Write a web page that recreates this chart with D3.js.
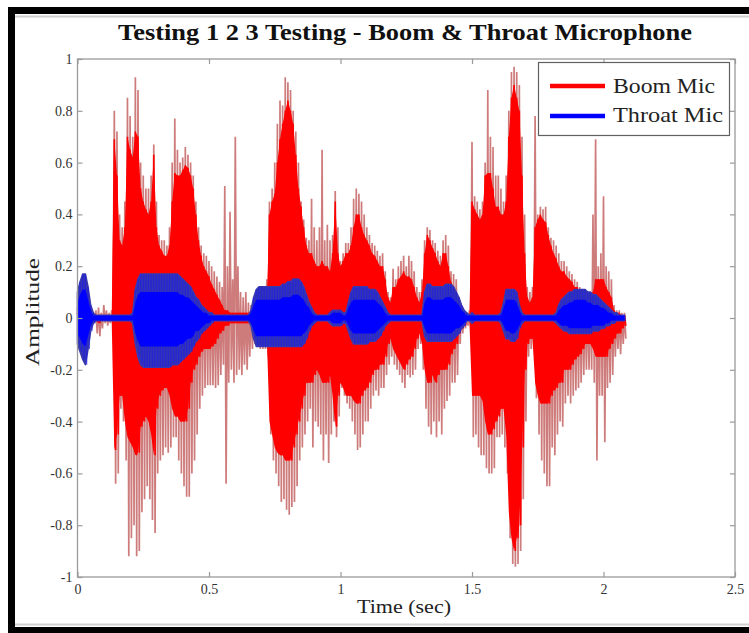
<!DOCTYPE html>
<html><head><meta charset="utf-8">
<script src="https://cdn.jsdelivr.net/npm/d3@7/dist/d3.min.js"></script>
<style>body{margin:0;background:#fff;} svg{display:block;}</style>
</head><body>
<svg id="chart" width="749" height="633"></svg>
<script>
// ---------------- data ----------------
const chartTitle = "Testing 1 2 3 Testing - Boom & Throat Microphone";
const xLabel = "Time (sec)";
const yLabel = "Amplitude";
const seriesNames = ["Boom Mic", "Throat Mic"];
const xTicks = [0, 0.5, 1, 1.5, 2, 2.5];
const xTickLabels = ["0", "0.5", "1", "1.5", "2", "2.5"];
const yTicks = [-1, -0.8, -0.6, -0.4, -0.2, 0, 0.2, 0.4, 0.6, 0.8, 1];
const yTickLabels = ["-1", "-0.8", "-0.6", "-0.4", "-0.2", "0", "0.2", "0.4", "0.6", "0.8", "1"];
const sampleStep = 0.01; // seconds between envelope samples (t = 0.00 ... 2.08)

// Boom mic: outer peaks (thin spikes)
const boomPeakMax = [
 0.04,0.06,0.05,0.05,0.03,0.02,0.02,0.03,0.04,0.02,
 0.05,0.03,0.02,0.03,0.80,0.72,0.40,0.35,0.45,0.85,
 0.78,0.70,0.93,0.88,0.60,0.55,0.50,0.50,0.55,0.67,
 0.45,0.32,0.30,0.30,0.28,0.35,0.60,0.77,0.65,0.60,
 0.62,0.66,0.63,0.60,0.55,0.45,0.35,0.28,0.25,0.24,
 0.22,0.20,0.18,0.16,0.14,0.12,0.51,0.20,0.41,0.15,
 0.70,0.20,0.10,0.08,0.10,0.06,0.05,0.05,0.06,0.08,
 0.10,0.10,0.15,0.45,0.50,0.60,0.75,0.84,0.82,0.93,
 0.91,0.88,0.80,0.72,0.60,0.45,0.38,0.31,0.30,0.46,
 0.35,0.30,0.35,0.65,0.30,0.36,0.30,0.32,0.49,0.35,
 0.22,0.25,0.29,0.29,0.35,0.46,0.50,0.48,0.45,0.40,
 0.35,0.32,0.29,0.28,0.26,0.24,0.25,0.18,0.10,0.08,
 0.19,0.15,0.20,0.22,0.24,0.20,0.24,0.22,0.18,0.12,
 0.10,0.15,0.30,0.35,0.34,0.30,0.29,0.26,0.24,0.30,
 0.32,0.28,0.18,0.17,0.15,0.08,0.05,0.03,0.02,0.03,
 0.68,0.47,0.45,0.42,0.45,0.60,0.88,0.70,0.66,0.55,
 0.55,0.50,0.45,0.55,0.80,0.95,0.97,0.95,0.90,0.70,
 0.40,0.12,0.10,0.12,0.78,0.40,0.43,0.42,0.43,0.35,
 0.31,0.30,0.28,0.25,0.22,0.22,0.20,0.18,0.17,0.15,
 0.14,0.12,0.10,0.08,0.08,0.10,0.40,0.69,0.20,0.25,
 0.47,0.20,0.18,0.15,0.05,0.03,0.03,0.02,0.02
];
const boomPeakMin = [
 -0.05,-0.08,-0.07,-0.06,-0.04,-0.03,-0.02,-0.06,-0.07,-0.04,
 -0.02,-0.03,-0.02,-0.03,-0.64,-0.60,-0.35,-0.40,-0.55,-0.92,
 -0.85,-0.80,-0.92,-0.90,-0.75,-0.70,-0.65,-0.70,-0.78,-0.83,
 -0.60,-0.55,-0.53,-0.50,-0.52,-0.50,-0.46,-0.46,-0.55,-0.60,
 -0.65,-0.69,-0.69,-0.60,-0.55,-0.45,-0.35,-0.30,-0.27,-0.26,
 -0.26,-0.26,-0.27,-0.26,-0.22,-0.18,-0.64,-0.25,-0.20,-0.25,
 -0.22,-0.20,-0.22,-0.18,-0.20,-0.15,-0.12,-0.10,-0.10,-0.12,
 -0.12,-0.12,-0.15,-0.45,-0.55,-0.60,-0.65,-0.71,-0.70,-0.74,
 -0.76,-0.73,-0.71,-0.65,-0.55,-0.50,-0.45,-0.40,-0.35,-0.50,
 -0.40,-0.42,-0.45,-0.55,-0.45,-0.56,-0.45,-0.40,-0.46,-0.38,
 -0.27,-0.30,-0.33,-0.35,-0.40,-0.45,-0.51,-0.50,-0.45,-0.40,
 -0.40,-0.35,-0.30,-0.28,-0.30,-0.27,-0.27,-0.22,-0.18,-0.15,
 -0.18,-0.20,-0.22,-0.25,-0.27,-0.22,-0.23,-0.22,-0.20,-0.12,
 -0.10,-0.20,-0.35,-0.42,-0.45,-0.40,-0.46,-0.40,-0.45,-0.35,
 -0.32,-0.30,-0.25,-0.25,-0.22,-0.10,-0.06,-0.04,-0.03,-0.03,
 -0.46,-0.45,-0.50,-0.53,-0.53,-0.58,-0.60,-0.60,-0.58,-0.46,
 -0.46,-0.45,-0.50,-0.60,-0.85,-0.95,-0.96,-0.95,-0.90,-0.70,
 -0.40,-0.15,-0.12,-0.12,-0.31,-0.45,-0.55,-0.60,-0.65,-0.65,
 -0.50,-0.53,-0.45,-0.40,-0.42,-0.33,-0.30,-0.33,-0.30,-0.28,
 -0.27,-0.25,-0.22,-0.20,-0.20,-0.20,-0.25,-0.55,-0.30,-0.30,
 -0.48,-0.27,-0.25,-0.22,-0.15,-0.12,-0.14,-0.10,-0.08
];
// Boom mic: dense core of the waveform
const boomCoreMax = [
 0.02,0.03,0.03,0.02,0.02,0.01,0.01,0.01,0.01,0.01,
 0.01,0.01,0.01,0.01,0.69,0.55,0.30,0.28,0.35,0.70,
 0.65,0.62,0.72,0.70,0.50,0.45,0.42,0.40,0.45,0.63,
 0.35,0.28,0.26,0.24,0.24,0.28,0.45,0.56,0.55,0.55,
 0.57,0.59,0.58,0.55,0.50,0.40,0.30,0.24,0.20,0.18,
 0.16,0.13,0.11,0.09,0.07,0.05,0.03,0.03,0.02,0.02,
 0.02,0.02,0.02,0.02,0.02,0.02,0.02,0.02,0.03,0.04,
 0.05,0.05,0.08,0.40,0.45,0.48,0.60,0.69,0.75,0.80,
 0.84,0.80,0.75,0.63,0.50,0.43,0.35,0.28,0.25,0.25,
 0.22,0.20,0.20,0.22,0.20,0.20,0.18,0.25,0.45,0.25,
 0.20,0.22,0.25,0.25,0.28,0.35,0.40,0.40,0.35,0.32,
 0.30,0.28,0.25,0.24,0.22,0.20,0.20,0.15,0.08,0.06,
 0.12,0.12,0.15,0.16,0.18,0.16,0.16,0.15,0.12,0.08,
 0.06,0.10,0.25,0.32,0.30,0.27,0.25,0.22,0.20,0.25,
 0.25,0.20,0.14,0.12,0.10,0.06,0.04,0.02,0.01,0.01,
 0.45,0.42,0.40,0.38,0.40,0.55,0.56,0.56,0.50,0.43,
 0.43,0.40,0.40,0.45,0.70,0.85,0.90,0.85,0.80,0.55,
 0.25,0.08,0.06,0.08,0.35,0.38,0.40,0.38,0.37,0.32,
 0.28,0.25,0.23,0.20,0.18,0.18,0.16,0.15,0.14,0.12,
 0.12,0.10,0.08,0.06,0.06,0.07,0.10,0.15,0.15,0.15,
 0.15,0.12,0.10,0.08,0.03,0.02,0.02,0.01,0.01
];
const boomCoreMin = [
 -0.02,-0.03,-0.03,-0.03,-0.02,-0.01,-0.01,-0.01,-0.02,-0.01,
 -0.01,-0.01,-0.01,-0.01,-0.51,-0.45,-0.30,-0.30,-0.40,-0.46,
 -0.48,-0.50,-0.53,-0.52,-0.42,-0.40,-0.38,-0.40,-0.45,-0.53,
 -0.35,-0.30,-0.28,-0.27,-0.27,-0.30,-0.35,-0.38,-0.38,-0.40,
 -0.40,-0.40,-0.35,-0.25,-0.20,-0.18,-0.15,-0.13,-0.12,-0.12,
 -0.12,-0.11,-0.10,-0.08,-0.06,-0.05,-0.03,-0.03,-0.02,-0.02,
 -0.02,-0.02,-0.02,-0.02,-0.02,-0.02,-0.02,-0.02,-0.03,-0.04,
 -0.05,-0.05,-0.08,-0.40,-0.45,-0.50,-0.52,-0.53,-0.53,-0.55,
 -0.55,-0.55,-0.50,-0.45,-0.40,-0.35,-0.30,-0.25,-0.25,-0.25,
 -0.22,-0.20,-0.22,-0.25,-0.25,-0.25,-0.22,-0.30,-0.42,-0.30,
 -0.25,-0.27,-0.30,-0.30,-0.30,-0.32,-0.33,-0.33,-0.30,-0.28,
 -0.27,-0.25,-0.22,-0.20,-0.20,-0.18,-0.18,-0.15,-0.10,-0.08,
 -0.12,-0.14,-0.16,-0.18,-0.20,-0.18,-0.16,-0.15,-0.12,-0.08,
 -0.06,-0.10,-0.20,-0.25,-0.25,-0.22,-0.25,-0.22,-0.20,-0.20,
 -0.20,-0.18,-0.14,-0.12,-0.10,-0.06,-0.04,-0.03,-0.01,-0.01,
 -0.30,-0.30,-0.30,-0.30,-0.32,-0.40,-0.45,-0.45,-0.43,-0.40,
 -0.38,-0.35,-0.35,-0.45,-0.75,-0.85,-0.90,-0.85,-0.80,-0.50,
 -0.20,-0.10,-0.08,-0.08,-0.25,-0.30,-0.33,-0.33,-0.33,-0.33,
 -0.30,-0.28,-0.27,-0.25,-0.25,-0.20,-0.20,-0.20,-0.18,-0.16,
 -0.15,-0.14,-0.12,-0.10,-0.10,-0.10,-0.12,-0.15,-0.15,-0.15,
 -0.15,-0.15,-0.12,-0.10,-0.08,-0.06,-0.06,-0.04,-0.03
];
// Throat mic: outer envelope
const throatMax = [
 0.10,0.14,0.17,0.17,0.12,0.05,0.02,0.01,0.01,0.01,
 0.01,0.01,0.01,0.01,0.01,0.01,0.01,0.01,0.01,0.01,
 0.01,0.02,0.11,0.15,0.17,0.17,0.17,0.17,0.17,0.17,
 0.17,0.17,0.17,0.17,0.17,0.17,0.17,0.17,0.17,0.16,
 0.15,0.14,0.13,0.12,0.10,0.08,0.07,0.05,0.04,0.03,
 0.02,0.02,0.01,0.01,0.01,0.01,0.01,0.01,0.01,0.01,
 0.01,0.01,0.01,0.01,0.01,0.01,0.03,0.08,0.11,0.12,
 0.12,0.12,0.12,0.12,0.12,0.12,0.12,0.12,0.13,0.13,
 0.14,0.14,0.15,0.15,0.15,0.14,0.12,0.09,0.06,0.04,
 0.02,0.01,0.01,0.01,0.01,0.01,0.02,0.03,0.03,0.03,
 0.03,0.02,0.02,0.06,0.10,0.12,0.12,0.12,0.12,0.12,
 0.12,0.11,0.11,0.11,0.10,0.08,0.06,0.04,0.02,0.01,
 0.01,0.01,0.01,0.01,0.01,0.01,0.01,0.01,0.01,0.01,
 0.01,0.01,0.10,0.13,0.13,0.12,0.12,0.12,0.12,0.12,
 0.13,0.13,0.13,0.12,0.10,0.08,0.05,0.03,0.02,0.01,
 0.02,0.01,0.01,0.01,0.01,0.01,0.01,0.01,0.01,0.01,
 0.01,0.02,0.06,0.11,0.11,0.11,0.11,0.10,0.05,0.02,
 0.01,0.01,0.01,0.01,0.01,0.01,0.01,0.01,0.01,0.01,
 0.01,0.01,0.02,0.05,0.07,0.08,0.09,0.10,0.10,0.11,
 0.11,0.11,0.11,0.11,0.10,0.10,0.09,0.09,0.08,0.07,
 0.06,0.05,0.04,0.03,0.02,0.02,0.01,0.01,0.01
];
const throatMin = [
 -0.10,-0.13,-0.16,-0.18,-0.12,-0.05,-0.02,-0.01,-0.01,-0.01,
 -0.01,-0.01,-0.01,-0.01,-0.01,-0.01,-0.01,-0.01,-0.01,-0.01,
 -0.01,-0.02,-0.10,-0.15,-0.18,-0.19,-0.19,-0.19,-0.19,-0.19,
 -0.19,-0.19,-0.19,-0.19,-0.19,-0.19,-0.18,-0.18,-0.18,-0.17,
 -0.16,-0.15,-0.14,-0.13,-0.11,-0.09,-0.08,-0.06,-0.05,-0.04,
 -0.03,-0.02,-0.01,-0.01,-0.01,-0.01,-0.01,-0.01,-0.01,-0.01,
 -0.01,-0.01,-0.01,-0.01,-0.01,-0.01,-0.03,-0.08,-0.11,-0.11,
 -0.11,-0.11,-0.11,-0.11,-0.11,-0.11,-0.11,-0.11,-0.11,-0.11,
 -0.11,-0.11,-0.11,-0.11,-0.11,-0.11,-0.10,-0.08,-0.05,-0.03,
 -0.02,-0.01,-0.01,-0.01,-0.01,-0.01,-0.02,-0.03,-0.03,-0.03,
 -0.03,-0.02,-0.02,-0.05,-0.08,-0.10,-0.10,-0.10,-0.10,-0.10,
 -0.10,-0.09,-0.09,-0.09,-0.08,-0.07,-0.05,-0.03,-0.02,-0.01,
 -0.01,-0.01,-0.01,-0.01,-0.01,-0.01,-0.01,-0.01,-0.01,-0.01,
 -0.01,-0.01,-0.07,-0.09,-0.09,-0.09,-0.09,-0.09,-0.09,-0.09,
 -0.09,-0.09,-0.09,-0.08,-0.07,-0.06,-0.04,-0.03,-0.01,-0.01,
 -0.02,-0.01,-0.01,-0.01,-0.01,-0.01,-0.01,-0.01,-0.01,-0.01,
 -0.01,-0.02,-0.05,-0.08,-0.08,-0.09,-0.09,-0.08,-0.04,-0.02,
 -0.01,-0.01,-0.01,-0.01,-0.01,-0.01,-0.01,-0.01,-0.01,-0.01,
 -0.01,-0.01,-0.02,-0.03,-0.04,-0.05,-0.05,-0.06,-0.06,-0.06,
 -0.06,-0.06,-0.06,-0.06,-0.06,-0.06,-0.05,-0.05,-0.05,-0.04,
 -0.04,-0.03,-0.03,-0.02,-0.02,-0.01,-0.01,-0.01,-0.01
];
// Throat mic: bright inner core
const throatCoreMax = [
 0.06,0.09,0.11,0.11,0.07,0.03,0.01,0.01,0.01,0.01,
 0.01,0.01,0.01,0.01,0.01,0.01,0.01,0.01,0.01,0.01,
 0.01,0.01,0.06,0.09,0.10,0.10,0.10,0.10,0.10,0.10,
 0.10,0.10,0.10,0.10,0.10,0.10,0.10,0.10,0.10,0.09,
 0.09,0.08,0.08,0.07,0.06,0.05,0.04,0.03,0.02,0.02,
 0.01,0.01,0.01,0.01,0.01,0.01,0.01,0.01,0.01,0.01,
 0.01,0.01,0.01,0.01,0.01,0.01,0.02,0.05,0.07,0.07,
 0.07,0.07,0.07,0.07,0.07,0.07,0.07,0.07,0.08,0.08,
 0.08,0.08,0.09,0.09,0.09,0.08,0.07,0.05,0.04,0.02,
 0.01,0.01,0.01,0.01,0.01,0.01,0.01,0.02,0.02,0.02,
 0.02,0.01,0.01,0.04,0.06,0.07,0.07,0.07,0.07,0.07,
 0.07,0.07,0.07,0.07,0.06,0.05,0.04,0.02,0.01,0.01,
 0.01,0.01,0.01,0.01,0.01,0.01,0.01,0.01,0.01,0.01,
 0.01,0.01,0.06,0.08,0.08,0.07,0.07,0.07,0.07,0.07,
 0.08,0.08,0.08,0.07,0.06,0.05,0.03,0.02,0.01,0.01,
 0.01,0.01,0.01,0.01,0.01,0.01,0.01,0.01,0.01,0.01,
 0.01,0.01,0.04,0.07,0.07,0.07,0.07,0.06,0.03,0.01,
 0.01,0.01,0.01,0.01,0.01,0.01,0.01,0.01,0.01,0.01,
 0.01,0.01,0.01,0.03,0.04,0.05,0.05,0.06,0.06,0.07,
 0.07,0.07,0.07,0.07,0.06,0.06,0.05,0.05,0.05,0.04,
 0.04,0.03,0.02,0.02,0.01,0.01,0.01,0.01,0.01
];
const throatCoreMin = [
 -0.06,-0.08,-0.10,-0.11,-0.07,-0.03,-0.01,-0.01,-0.01,-0.01,
 -0.01,-0.01,-0.01,-0.01,-0.01,-0.01,-0.01,-0.01,-0.01,-0.01,
 -0.01,-0.01,-0.06,-0.09,-0.11,-0.11,-0.11,-0.11,-0.11,-0.11,
 -0.11,-0.11,-0.11,-0.11,-0.11,-0.11,-0.11,-0.11,-0.11,-0.10,
 -0.10,-0.09,-0.08,-0.08,-0.07,-0.05,-0.05,-0.04,-0.03,-0.02,
 -0.02,-0.01,-0.01,-0.01,-0.01,-0.01,-0.01,-0.01,-0.01,-0.01,
 -0.01,-0.01,-0.01,-0.01,-0.01,-0.01,-0.02,-0.05,-0.07,-0.07,
 -0.07,-0.07,-0.07,-0.07,-0.07,-0.07,-0.07,-0.07,-0.07,-0.07,
 -0.07,-0.07,-0.07,-0.07,-0.07,-0.07,-0.06,-0.05,-0.03,-0.02,
 -0.01,-0.01,-0.01,-0.01,-0.01,-0.01,-0.01,-0.02,-0.02,-0.02,
 -0.02,-0.01,-0.01,-0.03,-0.05,-0.06,-0.06,-0.06,-0.06,-0.06,
 -0.06,-0.06,-0.06,-0.06,-0.05,-0.04,-0.03,-0.02,-0.01,-0.01,
 -0.01,-0.01,-0.01,-0.01,-0.01,-0.01,-0.01,-0.01,-0.01,-0.01,
 -0.01,-0.01,-0.04,-0.06,-0.06,-0.06,-0.06,-0.06,-0.06,-0.06,
 -0.06,-0.06,-0.06,-0.05,-0.04,-0.04,-0.03,-0.02,-0.01,-0.01,
 -0.01,-0.01,-0.01,-0.01,-0.01,-0.01,-0.01,-0.01,-0.01,-0.01,
 -0.01,-0.01,-0.03,-0.05,-0.05,-0.06,-0.06,-0.05,-0.03,-0.01,
 -0.01,-0.01,-0.01,-0.01,-0.01,-0.01,-0.01,-0.01,-0.01,-0.01,
 -0.01,-0.01,-0.01,-0.02,-0.03,-0.03,-0.03,-0.04,-0.04,-0.04,
 -0.04,-0.04,-0.04,-0.04,-0.04,-0.04,-0.03,-0.03,-0.03,-0.03,
 -0.03,-0.02,-0.02,-0.01,-0.01,-0.01,-0.01,-0.01,-0.01
];

// ---------------- drawing ----------------
const svg = d3.select("#chart");
const FONT = "'Liberation Serif', 'Times New Roman', serif";
const plot = {left: 77.5, right: 735, top: 59, bottom: 577};

const x = d3.scaleLinear().domain([0, 2.5]).range([plot.left, plot.right]);
const y = d3.scaleLinear().domain([-1, 1]).range([plot.bottom, plot.top]);
const tOf = i => i * sampleStep;

svg.append("rect").attr("x", 0).attr("y", 0).attr("width", 749).attr("height", 633).attr("fill", "#fff");

// zig-zag path alternating between an upper and a lower envelope
function zigzag(hi, lo) {
  const pts = [];
  hi.forEach((v, i) => {
    pts.push([x(tOf(i)), y(v)]);
    pts.push([x(tOf(i) + sampleStep / 2), y(lo[i])]);
  });
  return d3.line()(pts);
}
function band(hi, lo) {
  const rows = hi.map((v, i) => ({t: tOf(i), hi: v, lo: lo[i]}));
  return d3.area().x(d => x(d.t)).y0(d => y(d.lo)).y1(d => y(d.hi))(rows);
}

const gWave = svg.append("g");
// thin outer spikes of the boom mic
gWave.append("path")
  .attr("d", zigzag(boomPeakMax, boomPeakMin))
  .attr("fill", "none")
  .attr("stroke", "#c25a5a")
  .attr("stroke-width", 1.7)
  .attr("stroke-opacity", 0.8);

// dense core (filled + zig-zag strokes for a ragged edge)
gWave.append("path").attr("d", band(boomCoreMax, boomCoreMin)).attr("fill", "#ff0000");
gWave.append("path")
  .attr("d", zigzag(boomCoreMax, boomCoreMin))
  .attr("fill", "none")
  .attr("stroke", "#ff0000")
  .attr("stroke-width", 1.6);

// throat mic: darker outer band, bright core
gWave.append("path")
  .attr("d", band(throatMax, throatMin))
  .attr("fill", "#3434b4")
  .attr("stroke", "#3a3aae")
  .attr("stroke-width", 1.6)
  .attr("stroke-linejoin", "round");
gWave.append("path")
  .attr("d", zigzag(throatMax, throatMin))
  .attr("fill", "none")
  .attr("stroke", "#2020e0")
  .attr("stroke-width", 0.8)
  .attr("stroke-opacity", 0.7);
gWave.append("path").attr("d", band(throatCoreMax, throatCoreMin)).attr("fill", "#0000ff");

// axes box
svg.append("rect")
  .attr("x", plot.left).attr("y", plot.top)
  .attr("width", plot.right - plot.left).attr("height", plot.bottom - plot.top)
  .attr("fill", "none").attr("stroke", "#9a9a9a").attr("stroke-width", 1.3);

function styleAxis(g) {
  g.select(".domain").remove();
  g.selectAll(".tick line").attr("stroke", "#9a9a9a").attr("stroke-width", 1.2);
  g.selectAll(".tick text").attr("fill", "#333").style("font-family", FONT).style("font-size", "14px");
}
svg.append("g").attr("transform", `translate(0,${plot.bottom})`)
  .call(d3.axisBottom(x).tickValues(xTicks).tickFormat((d, i) => xTickLabels[i]).tickSizeInner(-5).tickSizeOuter(0).tickPadding(7))
  .call(styleAxis);
svg.append("g").attr("transform", `translate(0,${plot.top})`)
  .call(d3.axisTop(x).tickValues(xTicks).tickFormat("").tickSizeInner(-5).tickSizeOuter(0))
  .call(styleAxis);
svg.append("g").attr("transform", `translate(${plot.left},0)`)
  .call(d3.axisLeft(y).tickValues(yTicks).tickFormat((d, i) => yTickLabels[i]).tickSizeInner(-5).tickSizeOuter(0).tickPadding(5))
  .call(styleAxis);
svg.append("g").attr("transform", `translate(${plot.right},0)`)
  .call(d3.axisRight(y).tickValues(yTicks).tickFormat("").tickSizeInner(-5).tickSizeOuter(0))
  .call(styleAxis);

// title & labels
svg.append("text").text(chartTitle)
  .attr("x", 118).attr("y", 40)
  .attr("textLength", 574).attr("lengthAdjust", "spacingAndGlyphs")
  .style("font-family", FONT).style("font-weight", "bold").style("font-size", "23px").attr("fill", "#111");
svg.append("text").text(xLabel)
  .attr("x", 357).attr("y", 613)
  .attr("textLength", 94).attr("lengthAdjust", "spacingAndGlyphs")
  .style("font-family", FONT).style("font-size", "19px").attr("fill", "#222");
svg.append("text").text(yLabel)
  .attr("transform", "translate(39,366) rotate(-90)")
  .attr("textLength", 108).attr("lengthAdjust", "spacingAndGlyphs")
  .style("font-family", FONT).style("font-size", "19px").attr("fill", "#222");

// legend
const lg = svg.append("g");
lg.append("rect").attr("x", 538.5).attr("y", 62.5).attr("width", 191).attr("height", 73)
  .attr("fill", "#fff").attr("stroke", "#606060").attr("stroke-width", 1.2);
const legendItems = [
  {name: seriesNames[0], color: "#ff0000", yl: 86, yt: 93, len: 102},
  {name: seriesNames[1], color: "#0000ff", yl: 116, yt: 122, len: 110}
];
legendItems.forEach(it => {
  lg.append("line").attr("x1", 550).attr("x2", 605).attr("y1", it.yl).attr("y2", it.yl)
    .attr("stroke", it.color).attr("stroke-width", 4.5);
  lg.append("text").text(it.name).attr("x", 613).attr("y", it.yt)
    .attr("textLength", it.len).attr("lengthAdjust", "spacingAndGlyphs")
    .style("font-family", FONT).style("font-size", "21px").attr("fill", "#222");
});

// figure frame (black border, cut at the right edge)
svg.append("rect").attr("x", 13.5).attr("y", 16.5).attr("width", 760).attr("height", 608)
  .attr("fill", "none").attr("stroke", "#cfcfcf").attr("stroke-width", 2);
svg.append("rect").attr("x", 11.5).attr("y", 10.5).attr("width", 760).attr("height", 620)
  .attr("fill", "none").attr("stroke", "#000").attr("stroke-width", 7);
</script>
</body></html>
